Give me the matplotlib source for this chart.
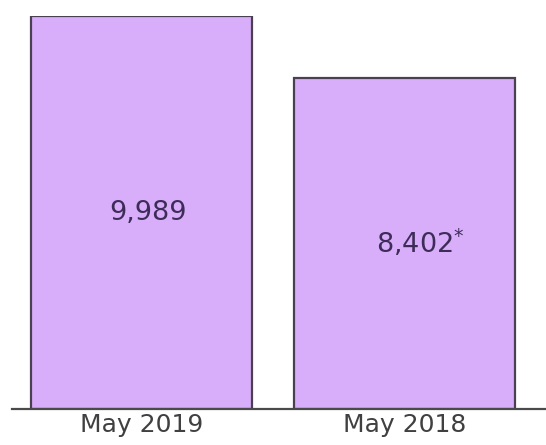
import matplotlib
matplotlib.use("Agg")
import matplotlib.pyplot as plt

# data
months = ["May 2019", "May 2018"]
counts = [9989, 8402]
labels = ["9,989", "8,402$^{*}$"]

fig = plt.figure(figsize=(5.46, 4.45), dpi=100)
ax = fig.add_axes([12 / 546, 36 / 445, 534 / 546, 393 / 445])

xs = list(range(len(months)))
ax.bar(xs, counts, width=0.842, color="#d8aefa", edgecolor="#4a4052", linewidth=1.6)

# value labels sit a bit right of centre, like the original
offs = [0.023, 0.06]
for x, c, lab, o in zip(xs, counts, labels, offs):
    ax.text(x + o, c / 2, lab, ha="center", va="center", fontsize=19.5,
            color="#3e2c58")

ax.set_xlim(-0.493, 1.539)
ax.set_ylim(0, max(counts))
ax.set_xticks(xs)
ax.set_xticklabels(months, fontsize=18, color="#404040")
ax.tick_params(axis="x", length=0, pad=3)
ax.set_yticks([])
for s in ["top", "right", "left"]:
    ax.spines[s].set_visible(False)
ax.spines["bottom"].set_color("#4a4a4a")
ax.spines["bottom"].set_linewidth(1.6)
ax.patch.set_alpha(0)

fig.savefig("out.png", dpi=100, facecolor="white")
